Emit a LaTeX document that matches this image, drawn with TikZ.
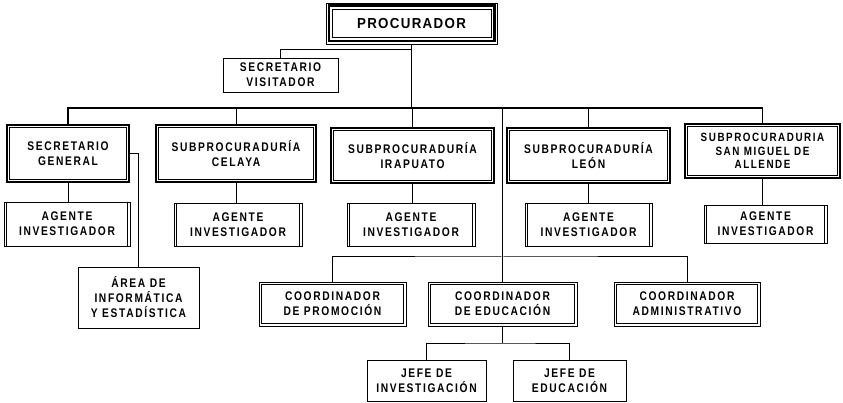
\documentclass[tikz,border=0pt]{standalone}
\usepackage{fontspec}
\newfontfamily\orgfont{Liberation Sans}[FakeStretch=0.82, LetterSpace=13]
\newfontfamily\procfont{Liberation Sans}[FakeStretch=0.92, LetterSpace=9]
\begin{document}
\begin{tikzpicture}[x=1pt,y=-1pt,
  box/.style={draw, line width=0.9pt, align=center, inner sep=0pt,
    font=\orgfont\bfseries\fontsize{12.5}{15}\selectfont},
  thickbox/.style={box, line width=2.6pt},
  coordbox/.style={box, line width=0.8pt},
  procbox/.style={box, line width=0.8pt, font=\procfont\bfseries\fontsize{14.5}{16}\selectfont},
  conn/.style={line width=1pt},
  bus/.style={line width=1.6pt}]
\useasboundingbox (0,0) rectangle (843,403);

% top
\node[procbox, minimum width=171pt, minimum height=41pt] (proc) at (411.5,23.5) {PROCURADOR};
\draw[line width=2.6pt] ([shift={(3.2,-3.2)}]proc.south west) rectangle ([shift={(-3.2,3.2)}]proc.north east);
\draw[line width=0.8pt] ([shift={(6.5,-6.5)}]proc.south west) rectangle ([shift={(-6.5,6.5)}]proc.north east);

\node[box, line width=0.8pt, minimum width=115pt, minimum height=34pt] (sv) at (280.5,75) {SECRETARIO\\VISITADOR};

% second level
\node[thickbox, minimum width=122pt, minimum height=57pt] (sg) at (68,153.5) {SECRETARIO\\GENERAL};
\node[thickbox, minimum width=160pt, minimum height=57pt] (cel) at (236,153.5) {SUBPROCURADURÍA\\CELAYA};
\node[thickbox, minimum width=163pt, minimum height=55pt] (ira) at (412.5,155.5) {SUBPROCURADURÍA\\IRAPUATO};
\node[thickbox, minimum width=163pt, minimum height=55pt] (leon) at (588.5,155.5) {SUBPROCURADURÍA\\LEÓN};
\node[thickbox, minimum width=155pt, minimum height=54pt, font=\orgfont\bfseries\fontsize{12}{13.5}\selectfont] (sm) at (762.5,151) {SUBPROCURADURIA\\SAN MIGUEL DE\\ALLENDE};
\foreach \n in {sg,cel,ira,leon,sm}
  \draw[line width=0.8pt] ([shift={(3.6,-3.6)}]\n.south west) rectangle ([shift={(-3.6,3.6)}]\n.north east);

% agents
\node[box, minimum width=126pt, minimum height=44pt] (ag1) at (67,224) {AGENTE\\INVESTIGADOR};
\node[box, minimum width=128pt, minimum height=43pt] (ag2) at (238,224.5) {AGENTE\\INVESTIGADOR};
\node[box, minimum width=128pt, minimum height=43pt] (ag3) at (411,224.5) {AGENTE\\INVESTIGADOR};
\node[box, minimum width=127pt, minimum height=43pt] (ag4) at (588.5,224.5) {AGENTE\\INVESTIGADOR};
\node[box, minimum width=123pt, minimum height=38pt] (ag5) at (765.5,224) {AGENTE\\INVESTIGADOR};
\foreach \n in {ag1,ag2,ag3,ag4,ag5} {
  \draw[line width=0.7pt] ([xshift=3pt]\n.north west) -- ([xshift=3pt]\n.south west);
  \draw[line width=0.7pt] ([xshift=-3pt]\n.north east) -- ([xshift=-3pt]\n.south east);
}

\node[box, minimum width=121pt, minimum height=61pt] (area) at (138.5,297.5) {ÁREA DE\\INFORMÁTICA\\Y ESTADÍSTICA};

% coordinators
\node[coordbox, minimum width=147pt, minimum height=44pt] (cp) at (332.5,304) {COORDINADOR\\DE PROMOCIÓN};
\node[coordbox, minimum width=149pt, minimum height=44pt] (ce) at (502.5,304) {COORDINADOR\\DE EDUCACIÓN};
\node[coordbox, minimum width=146pt, minimum height=44pt] (ca) at (687,304) {COORDINADOR\\ADMINISTRATIVO};
\foreach \n in {cp,ce,ca}
  \draw[line width=0.8pt] ([shift={(2.6,-2.6)}]\n.south west) rectangle ([shift={(-2.6,2.6)}]\n.north east);

\node[box, minimum width=119pt, minimum height=41pt] (ji) at (426.5,380.5) {JEFE DE\\INVESTIGACIÓN};
\node[box, minimum width=113pt, minimum height=41pt] (je) at (569.5,380.5) {JEFE DE\\EDUCACIÓN};

% connectors
\coordinate (busL) at (68,108);
\coordinate (svb) at (413,50);
\coordinate (cbar) at (502.5,257);
\coordinate (jbar) at (502.5,343);

\draw[conn] (proc.south) -- (proc.south |- svb);
\draw[bus] (proc.south |- svb) -- (proc.south |- busL);
\draw[conn] (proc.south |- svb) -| (sv.north);
\draw[bus] (sg.north) |- (busL) -- (busL -| sm.north) -- (sm.north);
\draw[conn] (cel.north) -- (cel.north |- busL);
\draw[conn] (ira.north) -- (ira.north |- busL);
\draw[conn] (leon.north) -- (leon.north |- busL);
\draw[conn] (ce.north) -- (ce.north |- busL);
\draw[conn] (cp.north) |- (cbar) -| (ca.north);
\draw[conn] (ce.south) -- (jbar);
\draw[conn] (ji.north) |- (jbar) -| (je.north);
\foreach \a/\b in {sg/ag1,cel/ag2,ira/ag3,leon/ag4,sm/ag5}
  \draw[conn] (\a.south) -- (\a.south |- \b.north);
\draw[conn] (sg.east) -| (area.north);
\end{tikzpicture}
\end{document}
